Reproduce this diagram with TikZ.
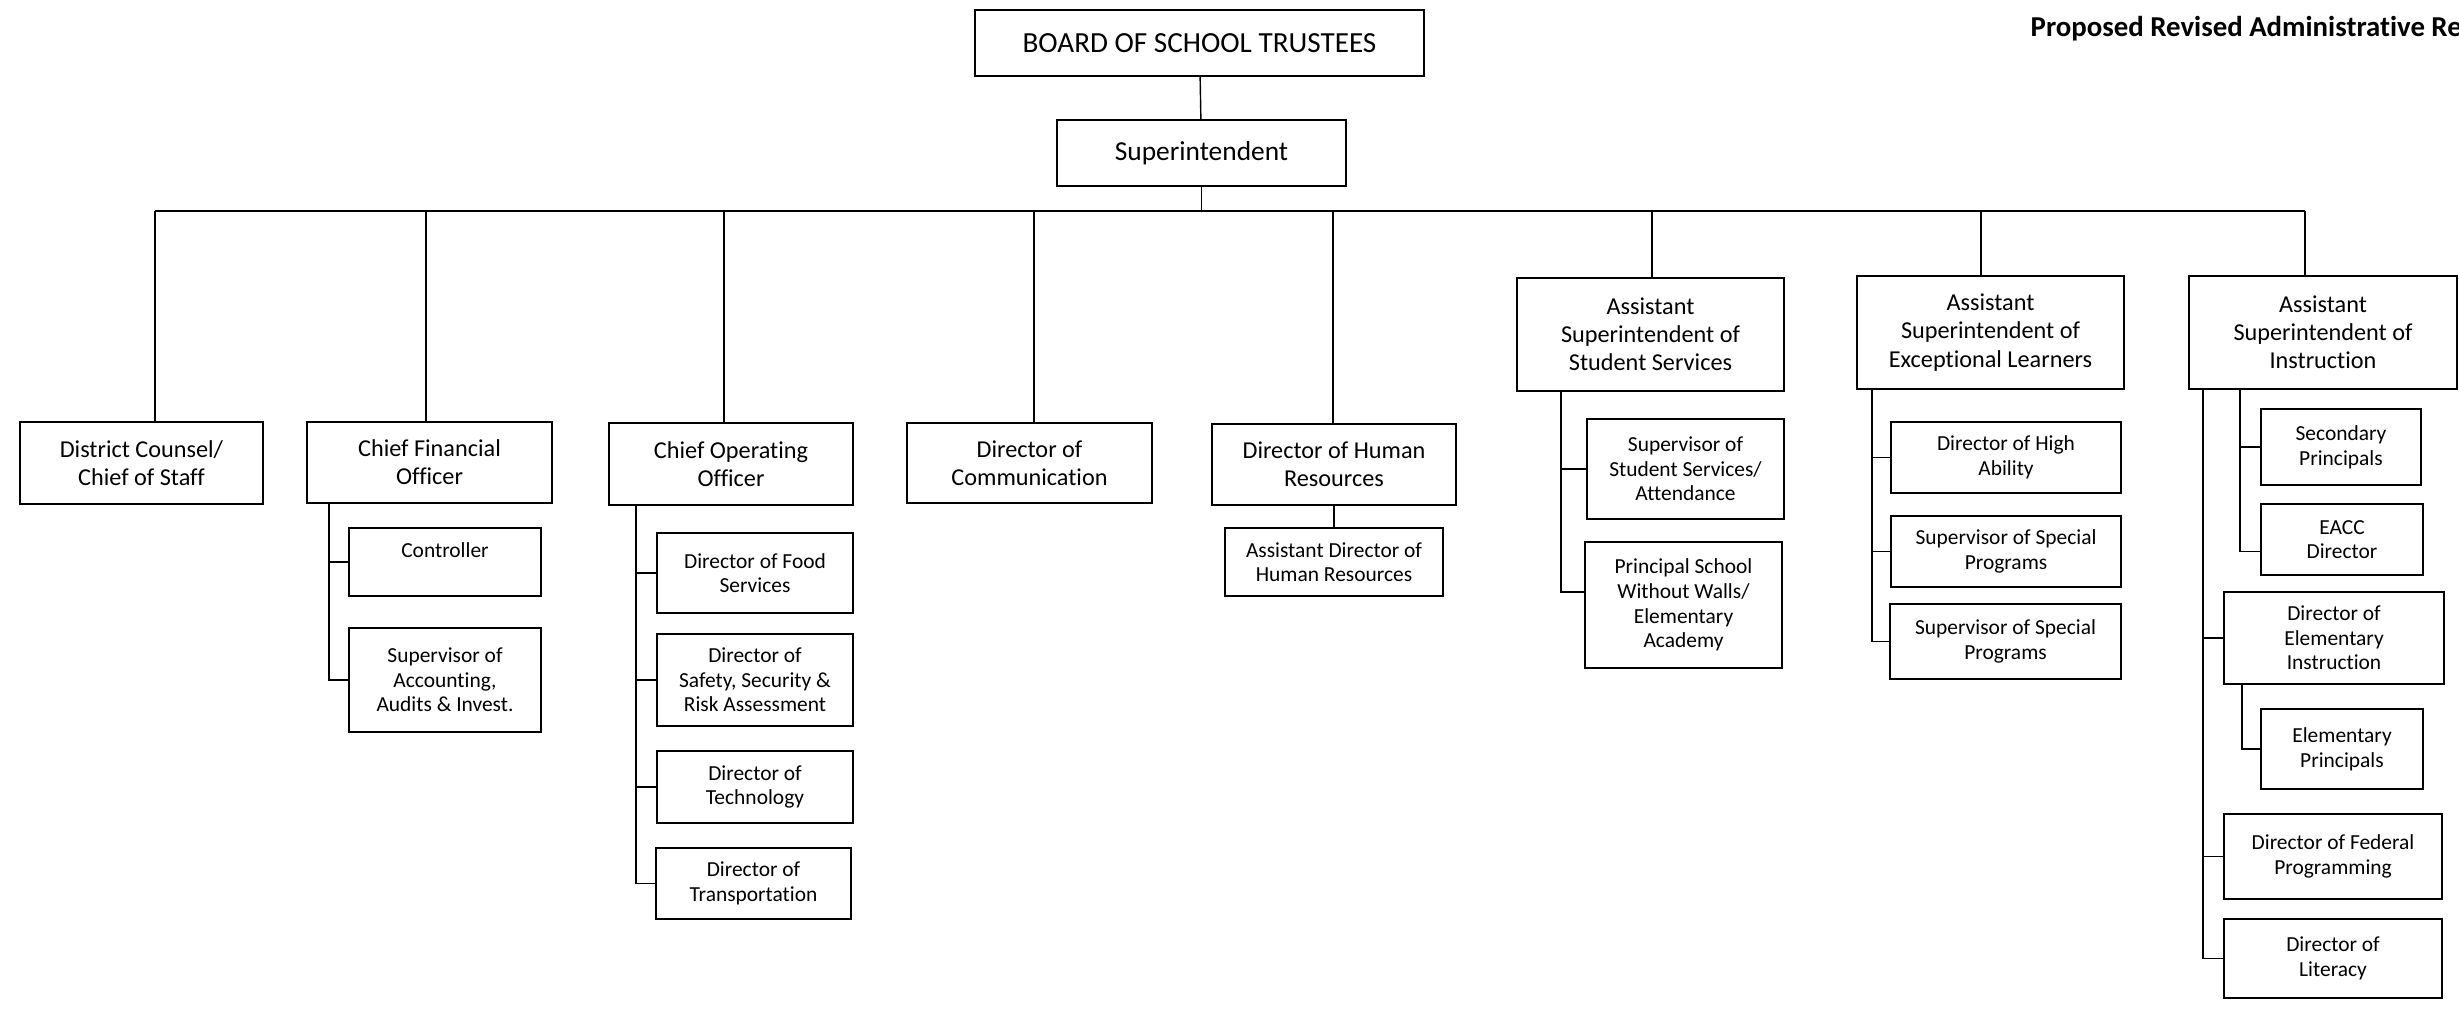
\documentclass[tikz,border=0pt]{standalone}
\usepackage{fontspec}
\setmainfont{Carlito}[Ligatures={NoCommon,NoContextual,NoRequired},RawFeature={-liga;-clig;-calt}]
\usetikzlibrary{positioning}

\tikzset{
  box/.style={draw,line width=0.45pt,align=center,inner sep=0pt},
  topbox/.style={box,font=\fontsize{7.8}{9.4}\selectfont},
  headbox/.style={box,font=\fontsize{6.9}{8}\selectfont},
  subbox/.style={box,font=\fontsize{6.1}{7}\selectfont},
  link/.style={line width=0.4pt}
}

\begin{document}
\begin{tikzpicture}[x=1cm,y=-1cm]
  % helper grid: comment for final drawing
  % \draw[help lines,step=1] (0,0) grid (24.59,10.13);
  \useasboundingbox (0,0) rectangle (24.59,10.13);

  % title, runs off the page
  \node[anchor=base west,inner sep=0pt,font=\fontsize{8.2}{10}\selectfont\bfseries] (title) at (20.30,0.37) {Proposed Revised Administrative Re};

  % top
  \node[topbox,font=\fontsize{8.3}{10}\selectfont,minimum width=4.49cm,minimum height=0.66cm] (board) at (11.995,0.43) {BOARD OF SCHOOL TRUSTEES};
  \node[topbox,minimum width=2.89cm,minimum height=0.66cm] (super) at (12.015,1.53) {Superintendent};

  % second row
  \node[headbox,minimum width=2.43cm,minimum height=0.82cm] (dc)   at (1.415,4.63)  {District Counsel/\\Chief of Staff};
  \node[headbox,minimum width=2.45cm,minimum height=0.81cm] (cfo)  at (4.295,4.625) {Chief Financial\\Officer};
  \node[headbox,minimum width=2.44cm,minimum height=0.82cm] (coo)  at (7.31,4.64)   {Chief Operating\\Officer};
  \node[headbox,minimum width=2.45cm,minimum height=0.80cm] (comm) at (10.295,4.63) {Director of\\Communication};
  \node[headbox,minimum width=2.44cm,minimum height=0.81cm] (hr)   at (13.34,4.645) {Director of Human\\Resources};
  \node[headbox,minimum width=2.67cm,minimum height=1.13cm] (ass)  at (16.505,3.345) {Assistant\\Superintendent of\\Student Services};
  \node[headbox,minimum width=2.67cm,minimum height=1.13cm] (asel) at (19.905,3.325) {Assistant\\Superintendent of\\Exceptional Learners};
  \node[headbox,minimum width=2.68cm,minimum height=1.13cm] (asi)  at (23.23,3.325)  {Assistant\\Superintendent of\\Instruction};

  % finance
  \node[subbox,minimum width=1.92cm,minimum height=0.68cm] (ctrl)   at (4.45,5.62) {Controller\\\mbox{}};
  \node[subbox,minimum width=1.92cm,minimum height=1.04cm] (supacc) at (4.45,6.80) {Supervisor of\\Accounting,\\Audits \& Invest.};

  % operations
  \node[subbox,minimum width=1.96cm,minimum height=0.80cm] (food)   at (7.55,5.73)  {Director of Food\\Services};
  \node[subbox,minimum width=1.96cm,minimum height=0.92cm] (safety) at (7.55,6.80)  {Director of\\Safety, Security \&\\Risk Assessment};
  \node[subbox,minimum width=1.96cm,minimum height=0.72cm] (tech)   at (7.55,7.87)  {Director of\\Technology};
  \node[subbox,minimum width=1.95cm,minimum height=0.71cm] (trans)  at (7.535,8.835) {Director of\\Transportation};

  % human resources
  \node[subbox,minimum width=2.18cm,minimum height=0.68cm] (adhr) at (13.34,5.62) {Assistant Director of\\Human Resources};

  % student services
  \node[subbox,minimum width=1.97cm,minimum height=1.00cm] (supss) at (16.855,4.69) {Supervisor of\\Student Services/\\Attendance};
  \node[subbox,minimum width=1.97cm,minimum height=1.26cm] (psww)  at (16.835,6.05) {Principal School\\Without Walls/\\Elementary\\Academy};

  % exceptional learners
  \node[subbox,minimum width=2.30cm,minimum height=0.71cm] (high)  at (20.06,4.575)  {Director of High\\Ability};
  \node[subbox,minimum width=2.30cm,minimum height=0.71cm] (spec1) at (20.06,5.515)  {Supervisor of Special\\Programs};
  \node[subbox,minimum width=2.31cm,minimum height=0.75cm] (spec2) at (20.055,6.415) {Supervisor of Special\\Programs};

  % instruction
  \node[subbox,minimum width=1.60cm,minimum height=0.76cm] (secp)  at (23.41,4.47)  {Secondary\\Principals};
  \node[subbox,minimum width=1.62cm,minimum height=0.71cm] (eacc)  at (23.42,5.395) {EACC\\Director};
  \node[subbox,minimum width=2.20cm,minimum height=0.92cm] (elem)  at (23.34,6.38)  {Director of\\Elementary\\Instruction};
  \node[subbox,minimum width=1.62cm,minimum height=0.80cm] (elemp) at (23.42,7.49)  {Elementary\\Principals};
  \node[subbox,minimum width=2.18cm,minimum height=0.85cm] (fed)   at (23.33,8.565) {Director of Federal\\Programming};
  \node[subbox,minimum width=2.18cm,minimum height=0.79cm] (lit)   at (23.33,9.585) {Director of\\Literacy};

  % lines from the top
  \coordinate (busL) at (1.55,2.11);
  \coordinate (busR) at (23.05,2.11);
  \draw[link] (board) -- (super);
  \draw[link] (super.south) -- (super.south |- busL);
  \draw[link] (busL) -- (busR);
  \foreach \n/\x in {dc/1.55,cfo/4.26,coo/7.24,comm/10.34,hr/13.33,ass/16.52,asel/19.81,asi/23.05}
    \draw[link] (\x,2.11) -- (\x,2.11 |- \n.north);

  % lines to the boxes below
  \draw[link] (cfo.south -| 3.29,0) |- (ctrl.west);
  \draw[link] (cfo.south -| 3.29,0) |- (supacc.west);
  \foreach \n in {food,safety,tech,trans}
    \draw[link] (coo.south -| 6.36,0) |- (\n.west);
  \draw[link] (hr) -- (adhr);
  \draw[link] (ass.south -| 15.61,0) |- (supss.west);
  \draw[link] (ass.south -| 15.61,0) |- ([yshift=0.13cm]psww.west);
  \foreach \n in {high,spec1,spec2}
    \draw[link] (asel.south -| 18.72,0) |- (\n.west);
  \foreach \n in {elem,fed,lit}
    \draw[link] (asi.south -| 22.03,0) |- (\n.west);
  \draw[link] (asi.south -| 22.40,0) |- (secp.west);
  \draw[link] (asi.south -| 22.40,0) |- ([yshift=-0.12cm]eacc.west);
  \draw[link] (elem.south -| 22.42,0) |- (elemp.west);

\end{tikzpicture}
\end{document}
